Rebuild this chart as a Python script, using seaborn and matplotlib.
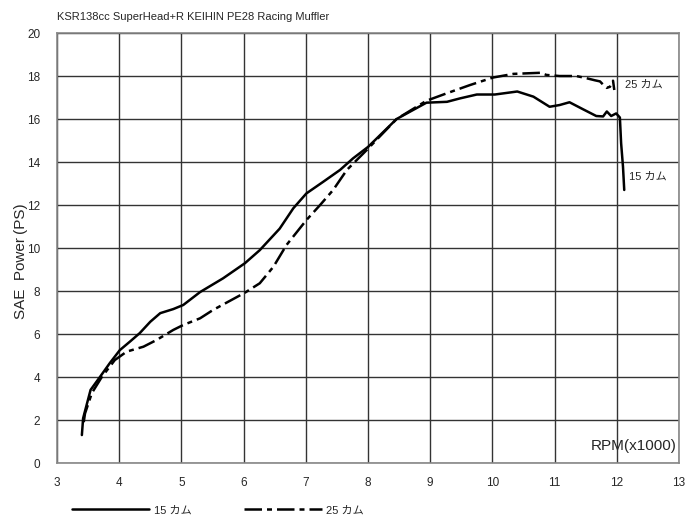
import matplotlib
matplotlib.use("Agg")
import matplotlib.pyplot as plt
import seaborn as sns
import pandas as pd
from matplotlib.lines import Line2D

title = "KSR138cc SuperHead+R KEIHIN PE28 Racing Muffler"
series_names = ["15 カム", "25 カム"]

rpm_15 = [3.40, 3.42, 3.54, 3.69, 3.85, 4.01, 4.17, 4.33, 4.50, 4.66, 4.87, 5.03, 5.30,
          5.67, 6.02, 6.26, 6.58, 6.80, 7.01, 7.28, 7.55, 7.76, 8.00, 8.46, 8.94,
          9.27, 9.48, 9.75, 10.04, 10.40, 10.66, 10.92, 11.08, 11.24, 11.46, 11.67,
          11.78, 11.84, 11.91, 11.99, 12.05, 12.07, 12.10, 12.12]
ps_15 = [1.3, 2.08, 3.4, 4.0, 4.65, 5.25, 5.64, 6.04, 6.57, 6.97, 7.16, 7.35, 7.95,
         8.59, 9.29, 9.9, 10.9, 11.85, 12.54, 13.08, 13.63, 14.17, 14.7, 16.0, 16.76,
         16.8, 16.96, 17.14, 17.14, 17.28, 17.04, 16.57, 16.65, 16.78, 16.45, 16.14,
         16.12, 16.35, 16.14, 16.26, 16.07, 14.87, 13.78, 12.7]

rpm_25 = [3.43, 3.45, 3.56, 3.72, 3.93, 4.12, 4.39, 4.60, 4.87, 5.03, 5.30, 5.51,
          6.02, 6.26, 6.48, 6.69, 7.01, 7.23, 7.44, 7.66, 7.98, 8.46, 8.94, 9.27,
          9.64, 10.01, 10.34, 10.77, 10.87, 11.08, 11.35, 11.51, 11.65, 11.73, 11.78,
          11.84, 11.89, 11.92, 11.94, 11.96]
ps_25 = [1.9, 2.3, 3.25, 4.0, 4.79, 5.18, 5.41, 5.72, 6.19, 6.42, 6.73, 7.12,
         7.92, 8.36, 9.13, 10.14, 11.3, 12.0, 12.7, 13.63, 14.56, 16.0, 16.85, 17.2,
         17.58, 17.93, 18.1, 18.15, 18.05, 18.0, 18.0, 17.9, 17.8, 17.75, 17.6,
         17.45, 17.5, 17.75, 17.78, 17.35]

x_ticks = [3, 4, 5, 6, 7, 8, 9, 10, 11, 12, 13]
y_ticks = [0, 2, 4, 6, 8, 10, 12, 14, 16, 18, 20]

df = pd.DataFrame({
    "rpm": rpm_15 + rpm_25,
    "ps": ps_15 + ps_25,
    "cam": [series_names[0]] * len(rpm_15) + [series_names[1]] * len(rpm_25),
})

sns.set_theme(style="white")
plt.rcParams["font.family"] = ["Liberation Sans", "Noto Sans CJK JP", "DejaVu Sans"]

fig = plt.figure(figsize=(6.85, 5.16), dpi=100)
ax = fig.add_axes([0.0832, 0.1027, 0.9080, 0.8333])

sns.lineplot(data=df, x="rpm", y="ps", hue="cam", style="cam",
             palette={series_names[0]: "black", series_names[1]: "black"},
             dashes={series_names[0]: "", series_names[1]: (7, 2, 2, 2)},
             sort=False, estimator=None, linewidth=1.8, ax=ax, legend=False)

ax.set_xlim(3, 13)
ax.set_ylim(0, 20)
ax.set_xticks(x_ticks)
ax.set_yticks(y_ticks)
ax.set_xticklabels([str(t) for t in x_ticks], fontsize=8.5)
ax.set_yticklabels([str(t) for t in y_ticks], fontsize=8.5)
ax.tick_params(axis="x", pad=10, length=0)
ax.tick_params(axis="y", pad=12, length=0)
ax.grid(True, color="#333333", linewidth=1.0)
for s in ax.spines.values():
    s.set_color("#888888")
    s.set_linewidth(1.2)
ax.set_xlabel("")
ax.set_ylabel("SAE  Power\u2009(PS)", fontsize=11)
ax.yaxis.set_label_coords(-0.047, 0.47)

ax.text(12.97, 0.45, "RPM(x1000)", ha="right", va="bottom", fontsize=11,
        fontstretch="condensed")
ax.text(12.13, 17.6, series_names[1], ha="left", va="center", fontsize=8)
ax.text(12.2, 13.3, series_names[0], ha="left", va="center", fontsize=8)

fig.text(0.083, 0.968, title, ha="left", va="center", fontsize=8)

handles = [Line2D([], [], color="black", linewidth=1.8),
           Line2D([], [], color="black", linewidth=1.8, dashes=(7, 2, 2, 2))]
fig.legend(handles, series_names, loc="lower left", bbox_to_anchor=(0.09, -0.018),
           ncol=2, frameon=False, fontsize=8, handlelength=7, columnspacing=4.7,
           handletextpad=0.4)

fig.savefig("out.png", dpi=100)
